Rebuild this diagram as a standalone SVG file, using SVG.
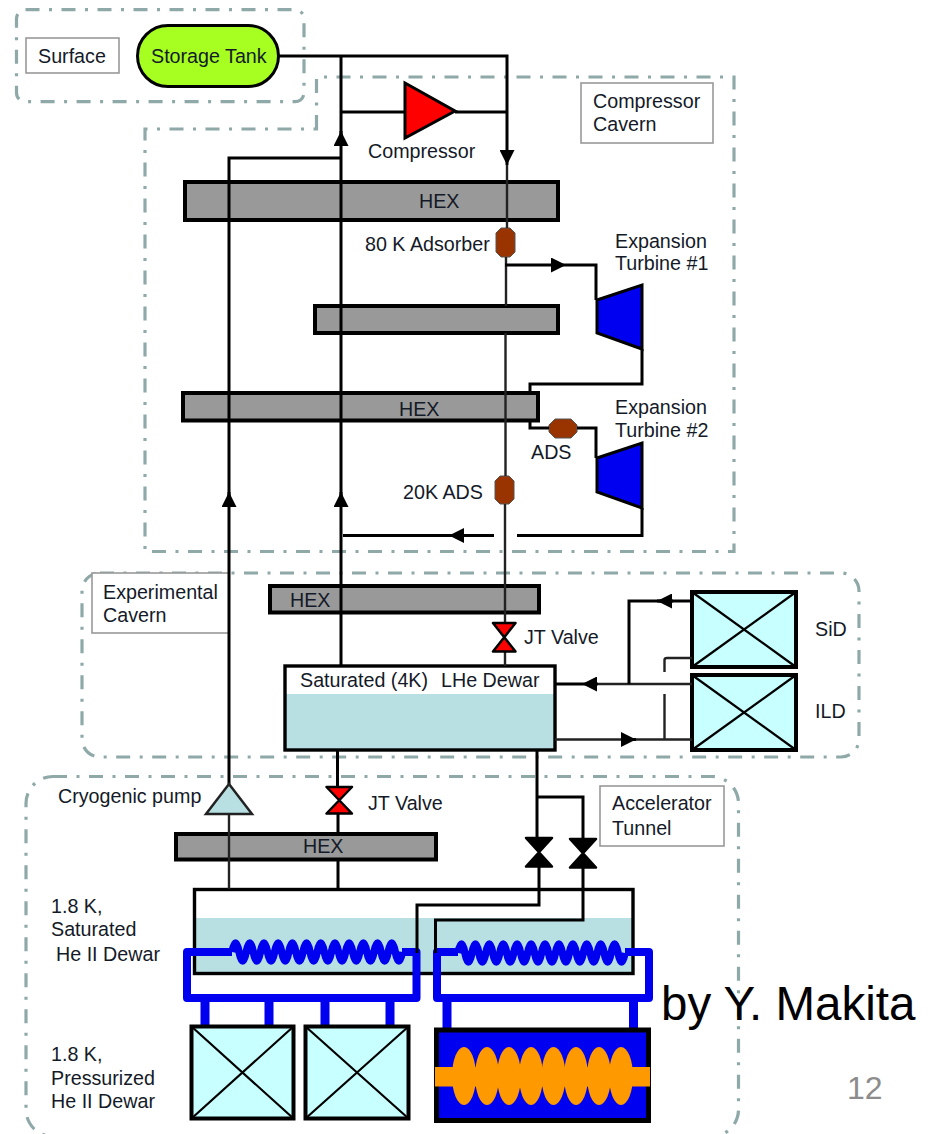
<svg xmlns="http://www.w3.org/2000/svg" width="932" height="1134" viewBox="0 0 932 1134">
<style>
text{font-family:"Liberation Sans",Arial,sans-serif;font-size:19.7px;fill:#141a28}
.region{fill:none;stroke:#8fa8a8;stroke-width:3.2;stroke-dasharray:14 9.5 3 9.5}
.label{fill:#fff;stroke:#999;stroke-width:1.6}
.hex{fill:#999;stroke:#000;stroke-width:4}
.pipe{fill:none;stroke:#000;stroke-width:3}
.thin{fill:none;stroke:#222;stroke-width:2.4}
.ads{fill:#993300;stroke:#555;stroke-width:1}
.turb{fill:#0000f0;stroke:#000;stroke-width:3}
.valve{stroke:#000;stroke-width:2.5;stroke-linejoin:round}
.mag{fill:#c8ffff;stroke:#000;stroke-width:4}
.x{stroke:#000;stroke-width:2.2;fill:none}
.he{fill:#b8dfe2}
.dw{fill:none;stroke:#000;stroke-width:3.4}
.blue{fill:none;stroke:#0000f0;stroke-width:8;stroke-linejoin:round}
.coil{fill:none;stroke:#0000f0;stroke-width:7.5}
.stub{fill:#0000f0}
</style>
<defs>
<marker id="arrow" markerUnits="userSpaceOnUse" viewBox="0 0 15 15" markerWidth="15" markerHeight="15" refX="15" refY="7.5" orient="auto"><path d="M0 0L15 7.5L0 15Z" fill="#000"/></marker>
</defs>

<g id="regions">
<rect id="region-surface" class="region" x="16.5" y="9.7" width="287.5" height="92" rx="9"/>
<path id="region-compressor" class="region" d="M316.5 129V77H734V551.5H145V129Z"/>
<rect id="region-experimental" class="region" x="82" y="573" width="777" height="184" rx="18"/>
<rect id="region-tunnel" class="region" x="26" y="776.5" width="712.5" height="360" rx="27"/>
</g>

<g id="surface-label"><rect class="label" x="26" y="38" width="93" height="35"/><text x="38" y="63">Surface</text></g>
<g id="storage-tank"><rect x="137.5" y="25.500" width="141" height="61" rx="30.500" fill="#a6ff20" stroke="#000" stroke-width="3"/><text x="151" y="63">Storage Tank</text></g>
<g id="compressor-label"><rect class="label" x="581" y="83" width="132" height="60"/><text x="593" y="108">Compressor</text><text x="593" y="131">Cavern</text></g>
<g id="experimental-label"><rect class="label" x="92" y="573" width="137" height="60"/><text x="103" y="599">Experimental</text><text x="103" y="622">Cavern</text></g>
<g id="tunnel-label"><rect class="label" x="600" y="786" width="124" height="60"/><text x="612" y="810">Accelerator</text><text x="612" y="835">Tunnel</text></g>

<g id="compressor"><polygon points="405,83 455,111 405,138" fill="#ff0000" stroke="#000" stroke-width="3"/><text x="368" y="158">Compressor</text></g>
<g id="hex-1"><rect class="hex" x="185" y="182" width="373" height="38"/><text x="419" y="208">HEX</text></g>
<g id="hex-2"><rect class="hex" x="315" y="306" width="243" height="27"/></g>
<g id="hex-3"><rect class="hex" x="183" y="393" width="355" height="27.500"/><text x="399" y="416">HEX</text></g>
<g id="hex-4"><rect class="hex" x="270" y="586" width="269" height="26.500"/><text x="290" y="607">HEX</text></g>
<g id="hex-5"><rect class="hex" x="176" y="834" width="260" height="25.500"/><text x="303" y="853">HEX</text></g>

<g id="adsorber-80k"><polygon class="ads" points="501,228 510,228 515,233 515,252 510,257 501,257 496,252 496,233"/><text x="365" y="251">80 K Adsorber</text></g>
<g id="adsorber-20k"><polygon class="ads" points="500,476 509,476 514,481 514,499 509,504 500,504 495,499 495,481"/><text x="403" y="499">20K ADS</text></g>
<g id="adsorber-ads"><polygon class="ads" points="555,419 571,419 577,425 577,432 571,438 555,438 549,432 549,425"/><text x="531" y="459">ADS</text></g>

<g id="turbine-1"><polygon class="turb" points="597,300 642,285 642,349 597,333"/><text x="615" y="248">Expansion</text><text x="615" y="270">Turbine #1</text></g>
<g id="turbine-2"><polygon class="turb" points="597,458 642,443 642,508 597,492"/><text x="615" y="414">Expansion</text><text x="615" y="437">Turbine #2</text></g>

<g id="dewar-4k"><rect x="285" y="666" width="270" height="84" fill="#fff"/><rect class="he" x="285" y="694" width="270" height="56"/><rect class="dw" x="285" y="666" width="270" height="84" stroke-width="3.600"/><text x="300" y="687">Saturated (4K)</text><text x="441" y="687">LHe Dewar</text></g>

<g id="sid"><rect class="mag" x="692" y="592" width="104" height="75"/><path class="x" d="M692 592L796 667M796 592L692 667"/><text x="815" y="636">SiD</text></g>
<g id="ild"><rect class="mag" x="692" y="675" width="104" height="75"/><path class="x" d="M692 675L796 750M796 675L692 750"/><text x="815" y="718">ILD</text></g>

<g id="dewar-18k"><rect x="194.500" y="889" width="438.500" height="85" fill="#fff"/><rect class="he" x="194.500" y="918" width="438.500" height="56"/><rect class="dw" x="194.500" y="889.500" width="438.500" height="84"/></g>

<g id="coil-left"><path class="blue" d="M232 952H187V998H416.500V952H402"/><path class="coil" d="M232 952q3.550 -18 7.100 0t7.100 0t7.100 0t7.100 0t7.100 0t7.100 0t7.100 0t7.100 0t7.100 0t7.100 0t7.100 0t7.100 0t7.100 0t7.100 0t7.100 0t7.100 0t7.100 0t7.100 0t7.100 0t7.100 0t7.100 0t7.100 0t7.100 0t7.100 0"/></g>
<g id="coil-right"><path class="blue" d="M458 952H437V998H649V952H625"/><path class="coil" d="M458 953q3.480 -18 6.960 0t6.960 0t6.960 0t6.960 0t6.960 0t6.960 0t6.960 0t6.960 0t6.960 0t6.960 0t6.960 0t6.960 0t6.960 0t6.960 0t6.960 0t6.960 0t6.960 0t6.960 0t6.960 0t6.960 0t6.960 0t6.960 0t6.960 0t6.960 0"/></g>

<g id="stubs">
<rect class="stub" x="200.500" y="1000" width="9" height="28"/><rect class="stub" x="264.500" y="1000" width="9" height="28"/><rect class="stub" x="320.500" y="1000" width="9" height="28"/><rect class="stub" x="385.500" y="1000" width="9" height="28"/><rect class="stub" x="442.500" y="1000" width="9" height="30"/><rect class="stub" x="629" y="1000" width="9" height="30"/>
</g>

<g id="magnet-1"><rect class="mag" x="191.500" y="1026.500" width="102" height="92"/><path class="x" d="M191.500 1026.500L293.500 1118.500M293.500 1026.500L191.500 1118.500"/></g>
<g id="magnet-2"><rect class="mag" x="305.500" y="1026.500" width="103" height="92"/><path class="x" d="M305.500 1026.500L408.500 1118.500M408.500 1026.500L305.500 1118.500"/></g>
<g id="cavity">
<rect x="436.500" y="1030" width="212" height="90.500" fill="#0000f0" stroke="#000" stroke-width="5"/>
<g fill="#ff9900"><ellipse cx="464" cy="1076" rx="12" ry="29"/><ellipse cx="487" cy="1076" rx="12" ry="29"/><ellipse cx="509" cy="1076" rx="12" ry="29"/><ellipse cx="531" cy="1076" rx="12" ry="29"/><ellipse cx="553.500" cy="1076" rx="12" ry="29"/><ellipse cx="576" cy="1076" rx="12" ry="29"/><ellipse cx="599" cy="1076" rx="12" ry="29"/><ellipse cx="621" cy="1076" rx="12" ry="29"/><rect x="435" y="1067" width="215" height="19.500"/></g>
</g>

<g id="connectors">
<path class="pipe" d="M278 56H507V150"/>
<path class="pipe" d="M341 56V666"/>
<path class="pipe" d="M341 112H405M455 112H507"/>
<path class="pipe" d="M341 158H229V784"/>
<path class="pipe" d="M341 146V131" marker-end="url(#arrow)"/>
<path class="pipe" d="M229 506V492" marker-end="url(#arrow)"/>
<path class="pipe" d="M341 506V492" marker-end="url(#arrow)"/>
<path class="pipe" d="M507 150V165" marker-end="url(#arrow)"/>
<path class="thin" d="M507 165V228"/>
<path class="thin" d="M506 257V306M505.500 333V476M505 504V622M505 652V666"/>
<path class="pipe" d="M505 265H552"/>
<path class="pipe" d="M552 265H566" marker-end="url(#arrow)"/>
<path class="pipe" d="M566 265H596V300"/>
<path class="pipe" d="M642 349V384H530V393"/>
<path class="pipe" d="M530 420V428H549M577 428H596V458"/>
<path class="pipe" d="M642 508V535.500H517"/>
<path class="pipe" d="M494 535.500H463"/>
<path class="pipe" d="M463 535.500H449" marker-end="url(#arrow)"/>
<path class="pipe" d="M449 535.500H343"/>
<path class="pipe" d="M598 684H582" marker-end="url(#arrow)"/>
<path class="thin" d="M692 684H598"/>
<path class="pipe" d="M582 684H555"/>
<path class="pipe" d="M629 684V601H692"/>
<path class="pipe" d="M673 601H657" marker-end="url(#arrow)"/>
<path class="thin" d="M555 739.500H622M636 739.500H692"/>
<path class="pipe" d="M622 739.500H636" marker-end="url(#arrow)"/>
<path class="thin" d="M664.500 739V694M664.500 672V660Q664.500 658 667 658H692"/>
<path class="pipe" d="M337.500 750V786M338 814V834M338 860V889"/>
<path class="thin" d="M229 814V889"/>
<path class="pipe" d="M537 750V837M537 797H583V838M539 867V905H417V953M583 868V920H435.500V953"/>
</g>

<g id="jt-valve-1"><polygon class="valve" fill="#ff0000" points="493,623 515.500,623 493,651.500 515.500,651.500"/><text x="524" y="644">JT Valve</text></g>
<g id="jt-valve-2"><polygon class="valve" fill="#ff0000" points="326.500,787 352,787 326.500,813.500 352,813.500"/><text x="368" y="810">JT Valve</text></g>
<g id="valve-3"><polygon class="valve" fill="#000" points="526,838 552,838 526,866.500 552,866.500"/></g>
<g id="valve-4"><polygon class="valve" fill="#000" points="570,839 596,839 570,867.500 596,867.500"/></g>
<g id="cryo-pump"><polygon points="229,784 252,814 206,814" fill="#b8dfe2" stroke="#222" stroke-width="2.500"/><text x="58" y="803">Cryogenic pump</text></g>

<g id="notes">
<text x="51" y="913">1.8 K,</text><text x="51" y="936">Saturated</text><text x="56" y="961">He II Dewar</text>
<text x="51" y="1061">1.8 K,</text><text x="51" y="1085">Pressurized</text><text x="51" y="1108">He II Dewar</text>
<text x="661" y="1020" style="font-size:47.5px;fill:#000">by Y. Makita</text>
<text x="847" y="1099" style="font-size:32px;fill:#8c8c8c">12</text>
</g>
</svg>
